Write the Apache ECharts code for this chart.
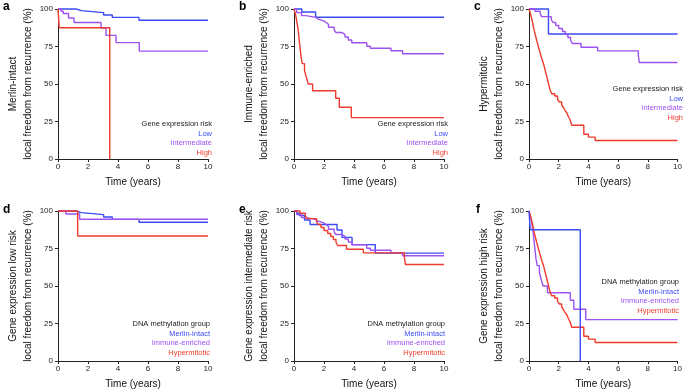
<!DOCTYPE html>
<html>
<head>
<meta charset="utf-8">
<script src="https://cdn.jsdelivr.net/npm/echarts@6/dist/echarts.min.js"></script>
<style>
html,body{margin:0;padding:0;background:#fff;}
#chart{width:685px;height:391px;}
</style>
</head>
<body>
<div id="chart"></div>
<script>
// Axis ticks
const xTicks = [0, 2, 4, 6, 8, 10];
const yTicks = [0, 25, 50, 75, 100];

// Kaplan-Meier curves: [time (years), local freedom from recurrence (%)]
// Merlin-intact group by gene expression risk
const mi_low  = [[0,100],[1.2,98.9],[1.56,97.6],[3.04,96.0],[3.62,94.4],[5.4,92.5],[10,92.5]];
const mi_int  = [[0,100],[0.2,98.5],[0.35,97.0],[0.7,94.0],[1.07,91.0],[2.87,87.3],[3.2,82.4],[3.87,77.6],[5.42,71.9],[10,71.9]];
const mi_high = [[0,100],[0.08,87.5],[3.45,0]];
// Immune-enriched group
const ie_low  = [[0,100],[0.52,98.0],[1.44,94.5],[10,94.5]];
const ie_int  = [[0,100],[0.18,97.6],[0.5,95.6],[0.8,94.4],[1.45,93.3],[1.6,92.2],[1.95,91.0],[2.13,89.8],[2.3,87.8],[2.68,86.0],[2.8,84.3],[3.2,83.1],[3.4,81.3],[3.62,79.3],[3.85,77.5],[4.85,75.2],[5.09,73.8],[6.46,72.2],[7.24,70.2],[10,70.2]];
const ie_high = [[0,100],[0.12,95.5],[0.2,90.9],[0.27,86.4],[0.32,81.8],[0.37,77.3],[0.42,72.7],[0.47,68.2],[0.55,63.6],[0.7,59.1],[0.82,54.5],[0.95,50.0],[1.24,45.5],[2.78,40.5],[3.02,34.5],[3.82,27.6],[10,27.6]];
// Hypermitotic group
const hm_low  = [[0,100],[1.31,83.3],[10,83.3]];
const hm_int  = [[0,100],[0.4,98.5],[0.75,97.0],[0.85,94.9],[1.5,92.9],[1.62,91.0],[1.8,89.0],[2.0,87.0],[2.25,85.0],[2.45,83.0],[2.62,81.0],[2.8,79.0],[2.92,77.0],[3.5,74.5],[4.62,72.1],[7.36,69.0],[7.43,64.3],[10,64.3]];
const hm_high = [[0,100],[0.08,97.6],[0.14,95.2],[0.2,92.9],[0.25,90.5],[0.3,88.1],[0.35,85.7],[0.41,83.3],[0.47,81.0],[0.53,78.6],[0.6,76.2],[0.66,73.8],[0.73,71.4],[0.8,69.0],[0.87,66.7],[0.95,64.3],[1.02,61.9],[1.08,59.5],[1.14,57.1],[1.2,54.8],[1.26,52.4],[1.32,50.0],[1.38,47.6],[1.45,45.2],[1.52,43.5],[1.73,42.0],[1.92,39.8],[2.05,38.0],[2.2,36.0],[2.33,34.0],[2.45,32.0],[2.56,30.5],[2.64,28.5],[2.75,26.5],[2.82,24.5],[2.88,22.5],[3.69,16.5],[4.0,14.6],[4.45,12.3],[10,12.3]];

// Text
const panelLetters = ['a','b','c','d','e','f'];
const yTitles = ['Merlin-intact','Immune-enriched','Hypermitotic','Gene expression low risk','Gene expression intermediate risk','Gene expression high risk'];
const yTitleSub = 'local freedom from recurrence (%)';
const xTitle = 'Time (years)';
const legendTitles = ['Gene expression risk','Gene expression risk','Gene expression risk','DNA methylation group','DNA methylation group','DNA methylation group'];
const riskNames = ['Low','Intermediate','High'];
const groupNames = ['Merlin-intact','Immune-enriched','Hypermitotic'];

const COLORS = ['#3a4cf4', '#9d52f2', '#f03b2c'];
const FONT = '"Liberation Sans", Arial, Helvetica, sans-serif';

const panelCurves = [
  [mi_low, mi_int, mi_high],
  [ie_low, ie_int, ie_high],
  [hm_low, hm_int, hm_high],
  [mi_low, ie_low, hm_low],
  [mi_int, ie_int, hm_int],
  [mi_high, ie_high, hm_high]
];
const panelNames = [riskNames, riskNames, riskNames, groupNames, groupNames, groupNames];

// Layout
const gridLefts = [58, 294, 529];
const gridTops = [9, 211];
const GW = 150, GH = 150;
const legendPos = [[212,124],[448,124],[683,89],[210,324],[445,324],[679,282]];
const letterPos = [[3,7],[239,7],[474,7],[3,210],[239,210],[476,210]];

const grids = [], xAxes = [], yAxes = [], series = [], graphics = [];
for (let p = 0; p < 6; p++) {
  const col = p % 3, row = Math.floor(p / 3);
  grids.push({left: gridLefts[col], top: gridTops[row], width: GW, height: GH, containLabel: false});
  xAxes.push({
    gridIndex: p, type: 'value', min: 0, max: 10, interval: 2,
    name: xTitle, nameLocation: 'middle', nameGap: 18,
    nameTextStyle: {fontFamily: FONT, fontSize: 10, color: '#111'},
    axisLine: {lineStyle: {color: '#222', width: 1}},
    axisTick: {show: true, length: 3, lineStyle: {color: '#222'}},
    axisLabel: {fontFamily: FONT, fontSize: 8, color: '#222', margin: 4},
    splitLine: {show: false}
  });
  yAxes.push({
    gridIndex: p, type: 'value', min: 0, max: 100, interval: 25,
    name: yTitles[p] + '\n' + yTitleSub, nameLocation: 'middle', nameRotate: 90, nameGap: 21,
    nameTextStyle: {fontFamily: FONT, fontSize: 10, lineHeight: 15, color: '#111'},
    axisLine: {show: true, lineStyle: {color: '#222', width: 1}},
    axisTick: {show: true, length: 3, lineStyle: {color: '#222'}},
    axisLabel: {fontFamily: FONT, fontSize: 8, color: '#222', margin: 5},
    splitLine: {show: false}
  });
  const order = (p === 5) ? [1, 2, 0] : [0, 1, 2];
  order.forEach(k => {
    series.push({
      type: 'line', name: panelNames[p][k], xAxisIndex: p, yAxisIndex: p,
      data: panelCurves[p][k], step: 'end', showSymbol: false, symbol: 'none',
      lineStyle: {color: COLORS[k], width: 1.4}, itemStyle: {color: COLORS[k]},
      animation: false, silent: true, clip: false
    });
  });
  // legend text
  const [lx, ly] = legendPos[p];
  graphics.push({type: 'text', x: lx, y: ly, style: {text: legendTitles[p], fill: '#222', font: '7.5px ' + FONT, textAlign: 'right', textVerticalAlign: 'middle'}});
  for (let k = 0; k < 3; k++) {
    graphics.push({type: 'text', x: lx, y: ly + 9.5 * (k + 1), style: {text: panelNames[p][k], fill: COLORS[k], font: '7.5px ' + FONT, textAlign: 'right', textVerticalAlign: 'middle'}});
  }
  graphics.push({type: 'text', x: letterPos[p][0], y: letterPos[p][1], style: {text: panelLetters[p], fill: '#000', font: 'bold 12px ' + FONT, textAlign: 'left', textVerticalAlign: 'middle'}});
}

const chart = echarts.init(document.getElementById('chart'), null, {renderer: 'canvas'});
chart.setOption({
  animation: false,
  backgroundColor: '#fff',
  grid: grids, xAxis: xAxes, yAxis: yAxes, series: series,
  graphic: graphics
});
</script>
</body>
</html>
